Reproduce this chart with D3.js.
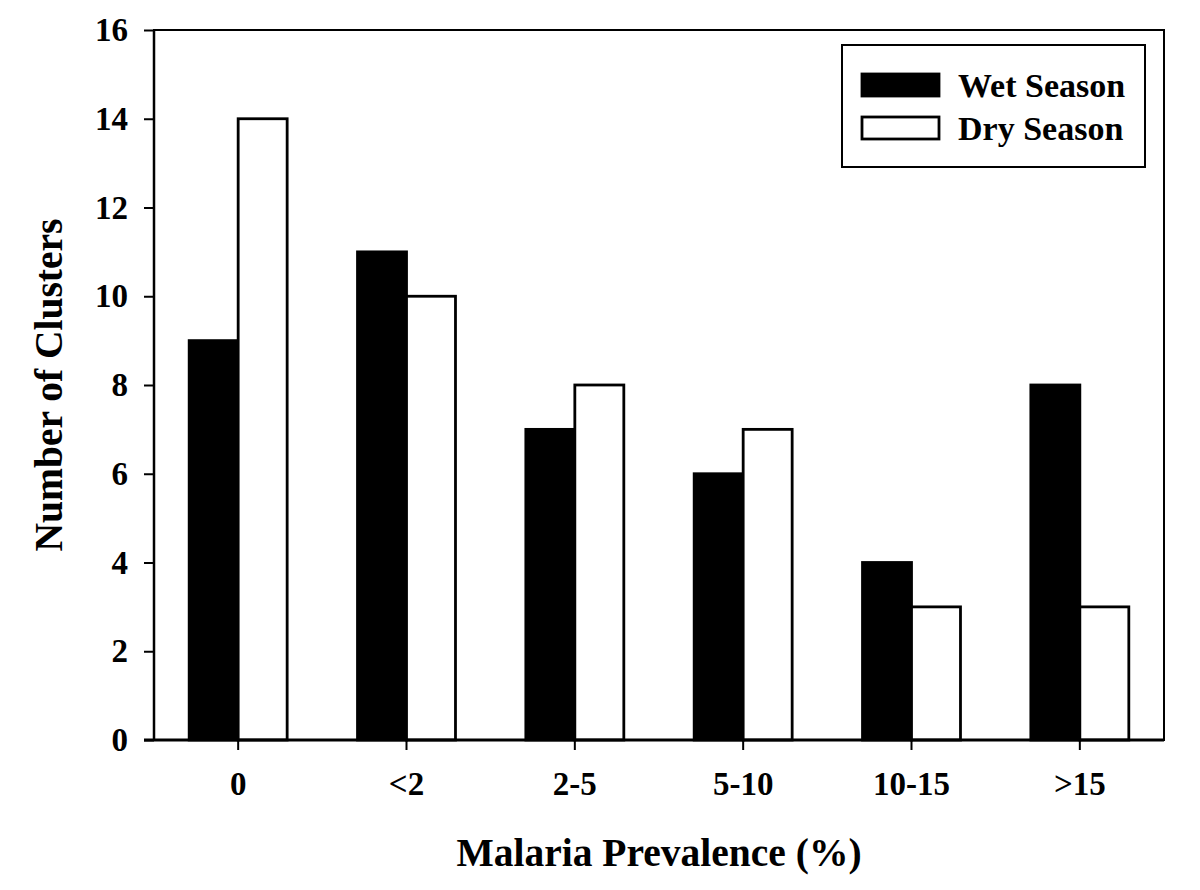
<!DOCTYPE html>
<html><head><meta charset="utf-8">
<script src="https://cdn.jsdelivr.net/npm/d3@7"></script>
<style>body{margin:0;background:#fff}svg{display:block}text{font-family:"Liberation Serif","Times New Roman",serif;font-weight:bold;fill:#000}</style>
</head><body>
<svg id="c" width="1200" height="890"></svg>
<script>
const categories = ["0", "<2", "2-5", "5-10", "10-15", ">15"];
const seriesNames = ["Wet Season", "Dry Season"];
const wetValues = [9, 11, 7, 6, 4, 8];
const dryValues = [14, 10, 8, 7, 3, 3];
const yTicks = [0, 2, 4, 6, 8, 10, 12, 14, 16];
const fills = ["#000", "#fff"];

const svg = d3.select("#c");
const L = 154, R = 1164, T = 30, B = 740;
const x = d3.scaleBand().domain(categories).range([L, R]).paddingInner(0.418).paddingOuter(0.209);
const xs = d3.scaleBand().domain(seriesNames).range([0, x.bandwidth()]);
const y = d3.scaleLinear().domain([0, 16]).range([B, T]);

// frame
svg.append("rect").attr("x", L).attr("y", T).attr("width", R - L).attr("height", B - T)
  .attr("fill", "none").attr("stroke", "#000").attr("stroke-width", 2);

const data = categories.map((c, i) => ({c, vals: [wetValues[i], dryValues[i]]}));
const g = svg.append("g");
data.forEach(d => {
  d.vals.forEach((v, j) => {
    g.append("rect")
      .attr("x", x(d.c) + xs(seriesNames[j]))
      .attr("y", y(v))
      .attr("width", xs.bandwidth())
      .attr("height", y(0) - y(v))
      .attr("fill", fills[j]).attr("stroke", "#000").attr("stroke-width", 2.8);
  });
});

// y axis
const ya = svg.append("g").attr("transform", `translate(${L},0)`)
  .call(d3.axisLeft(y).tickValues(yTicks).tickSize(10).tickPadding(16).tickFormat(d3.format("d")));
ya.select(".domain").attr("stroke-width", 2.5).attr("d", `M0,${B}V${T}`);
ya.selectAll(".tick line").attr("stroke-width", 2);
ya.selectAll(".tick text").attr("font-size", 33).attr("font-family", "Liberation Serif").attr("font-weight", "bold").attr("fill", "#000");

// x axis
const xa = svg.append("g").attr("transform", `translate(0,${B})`)
  .call(d3.axisBottom(x).tickSize(10).tickPadding(22));
xa.select(".domain").attr("stroke-width", 3).attr("d", `M${L - 10},0H${R}`);
xa.selectAll(".tick line").attr("stroke-width", 2);
xa.selectAll(".tick text").attr("font-size", 33).attr("font-family", "Liberation Serif").attr("font-weight", "bold").attr("fill", "#000");

// axis titles
svg.append("text").attr("x", (L + R) / 2).attr("y", 866).attr("text-anchor", "middle")
  .attr("font-size", 39.5).text("Malaria Prevalence (%)");
svg.append("text").attr("transform", `translate(62,${(T + B) / 2})) rotate(-90)`.replace("))", ")")).attr("text-anchor", "middle")
  .attr("font-size", 39.5).text("Number of Clusters");

// legend
const lg = svg.append("g");
lg.append("rect").attr("x", 842).attr("y", 45).attr("width", 303).attr("height", 122)
  .attr("fill", "#fff").attr("stroke", "#000").attr("stroke-width", 2);
seriesNames.forEach((s, i) => {
  lg.append("rect").attr("x", 862).attr("y", 74 + i * 43).attr("width", 77).attr("height", 22)
    .attr("fill", fills[i]).attr("stroke", "#000").attr("stroke-width", 2.8);
  lg.append("text").attr("x", 958).attr("y", 97 + i * 43).attr("font-size", 34).text(s);
});
</script>
</body></html>
